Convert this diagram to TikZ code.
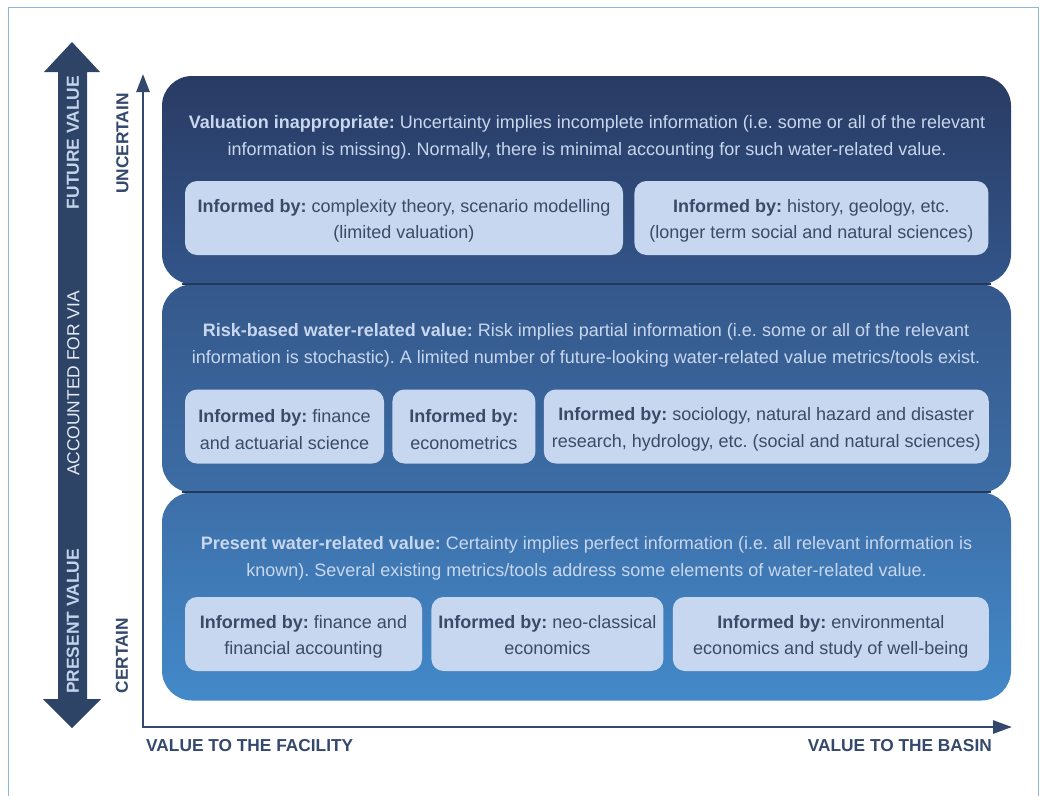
\documentclass[tikz,border=0pt]{standalone}
\usepackage{fontspec}
\setmainfont{Liberation Sans}
\usetikzlibrary{arrows.meta,positioning}

\definecolor{navy}{HTML}{2E4467}
\definecolor{axiscol}{HTML}{33486C}
\definecolor{framecol}{HTML}{8DB5DD}
\definecolor{ptopa}{HTML}{293B63}
\definecolor{ptopb}{HTML}{33558A}
\definecolor{pmida}{HTML}{35588B}
\definecolor{pmidb}{HTML}{3C6DA5}
\definecolor{pbota}{HTML}{3D6FA8}
\definecolor{pbotb}{HTML}{4389C9}
\definecolor{sepcol}{HTML}{24385A}
\definecolor{boxblue}{HTML}{C6D7EF}
\definecolor{boxtext}{HTML}{3B4A66}
\definecolor{titletext}{HTML}{C8D7EE}
\definecolor{arrowlight}{HTML}{C2D3EC}
\definecolor{arrowwhite}{HTML}{E4EBF5}

\frenchspacing
\newcommand{\bodyfont}{\fontsize{18}{26.5}\selectfont}
% first line of a box sits a little lower
\newcommand{\informedby}{\rule{0pt}{19pt}\textbf{Informed by:}}

\tikzset{
  panel/.style={rounded corners=30pt, minimum width=849pt, minimum height=208pt, inner sep=0pt},
  infobox/.style={fill=boxblue, rounded corners=12pt, minimum height=74pt, inner sep=0pt,
    align=center, text=boxtext, font=\bodyfont},
  paneltitle/.style={align=center, text=titletext, font=\bodyfont, inner sep=0pt},
  sepline/.style={draw=sepcol, line width=2pt},
  axis/.style={draw=axiscol, line width=2.6pt},
  axislabel/.style={text=axiscol, inner sep=0pt, font=\bfseries\fontsize{17.3}{20}\selectfont},
  arrowtext/.style={rotate=90, inner sep=0pt, font=\fontsize{17.4}{20}\selectfont},
  arrowbold/.style={arrowtext, text=arrowlight, font=\bfseries\fontsize{17.4}{20}\selectfont},
}

\begin{document}
\begin{tikzpicture}[x=1pt,y=-1pt]
\useasboundingbox (0,0) rectangle (1041,796);
% frame
\draw[framecol, line width=1pt] (8,796) -- (8,7) -- (1038,7) -- (1038,796);

% big double arrow on the left
\fill[navy] (72,42) -- (100,72) -- (87,72) -- (87,699) -- (101,699) -- (72,728)
  -- (43,699) -- (58,699) -- (58,72) -- (44,72) -- cycle;
\node[arrowbold] (futval) at (73,142.5) {FUTURE VALUE};
\node[arrowtext, text=arrowwhite] (accvia) at (73.5,383.5) {ACCOUNTED FOR VIA};
\node[arrowbold] (presval) at (73,621.5) {PRESENT VALUE};

% three bands
\node[panel, top color=ptopa, bottom color=ptopb] (uncert) at (586.5,180) {};
\node[panel, top color=pmida, bottom color=pmidb] (risk) at (586.5,388.5) {};
\node[panel, top color=pbota, bottom color=pbotb] (present) at (586.5,596.5) {};
\draw[sepline] ([xshift=20pt]risk.north west) -- ([xshift=-20pt]risk.north east);
\draw[sepline] ([xshift=20pt]present.north west) -- ([xshift=-20pt]present.north east);

% top band
\node[paneltitle] (uncerttitle) at (587,137.5) {\textbf{Valuation inappropriate:} Uncertainty implies incomplete information (i.e. some or all of the relevant\\
  information is missing). Normally, there is minimal accounting for such water-related value.};
\node[infobox, minimum width=438pt] (cplx) at (404,218) {\informedby{} complexity theory, scenario modelling\\(limited valuation)};
\node[infobox, minimum width=354pt, right=11pt of cplx] (hist) {\informedby{} history, geology, etc.\\(longer term social and natural sciences)};

% middle band
\node[paneltitle] (risktitle) at (586,345.5) {\textbf{Risk-based water-related value:} Risk implies partial information (i.e. some or all of the relevant\\
  information is stochastic). A limited number of future-looking water-related value metrics/tools exist.};
\node[infobox, minimum width=199pt] (actu) at (284.5,426.5) {\informedby{} finance\\and actuarial science};
\node[infobox, minimum width=143pt, right=8pt of actu] (econo) {\informedby\\econometrics};
\node[infobox, minimum width=445pt, right=8pt of econo] (socio) {\informedby{} sociology, natural hazard and disaster\\research, hydrology, etc. (social and natural sciences)};

% bottom band
\node[paneltitle] (presenttitle) at (586.5,558.5) {\textbf{Present water-related value:} Certainty implies perfect information (i.e. all relevant information is\\
  known). Several existing metrics/tools address some elements of water-related value.};
\node[infobox, minimum width=237pt] (fin) at (303.5,634) {\informedby{} finance and\\financial accounting};
\node[infobox, minimum width=232pt, right=9pt of fin] (neo) {\informedby{} neo-classical\\economics\vphantom{g}};
\node[infobox, minimum width=316pt, right=9pt of neo] (envi) {\informedby{} environmental\\economics and study of well-being};

% axes
\coordinate (origin) at (143,727);
\coordinate (ytop) at (143,74);
\coordinate (xend) at (1012,727);
\draw[axis, {Triangle[length=18pt,width=13pt]}-{Triangle[length=19pt,width=13pt]}] (ytop) -- (origin) -- (xend);
\node[axislabel, rotate=90] (uncertain) at (122.5,143.5) {UNCERTAIN};
\node[axislabel, rotate=90] (certain) at (122,655.5) {CERTAIN};
\node[axislabel, anchor=west] (facil) at (146,746) {VALUE TO THE FACILITY};
\node[axislabel, anchor=east] (basin) at (992,746) {VALUE TO THE BASIN};
\end{tikzpicture}
\end{document}
